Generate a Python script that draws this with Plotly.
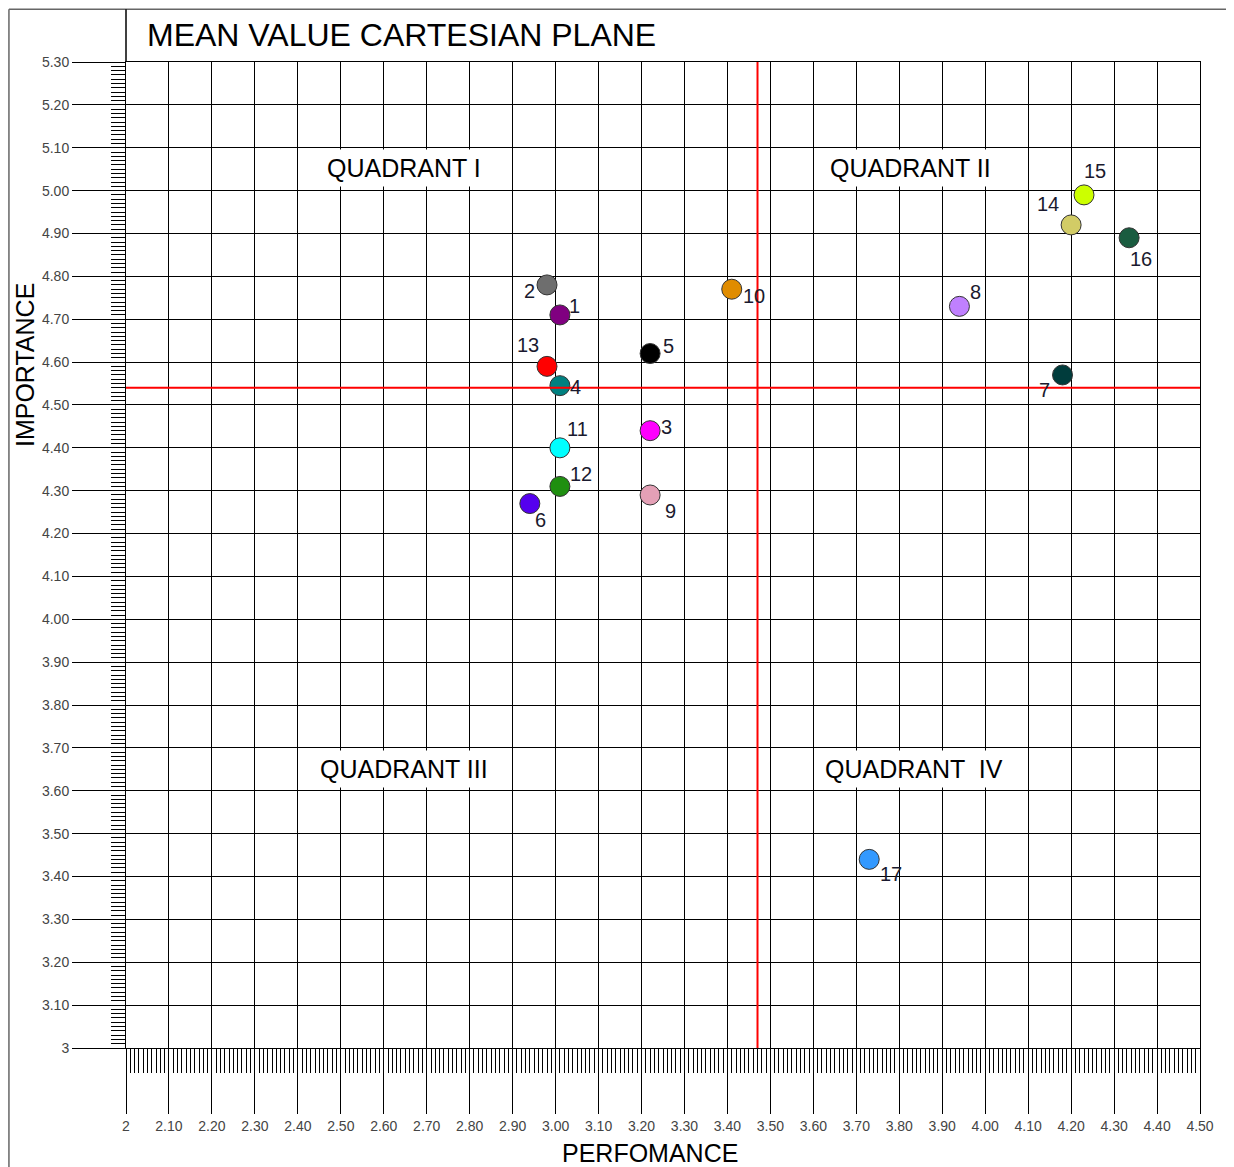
import plotly.graph_objects as go

# ---- data ----
labels = ["1", "2", "3", "4", "5", "6", "7", "8", "9", "10", "11", "12", "13", "14", "15", "16", "17"]
performance = [3.01, 2.98, 3.22, 3.01, 3.22, 2.94, 4.18, 3.94, 3.22, 3.41, 3.01, 3.01, 2.98, 4.20, 4.23, 4.335, 3.73]
importance = [4.71, 4.78, 4.44, 4.545, 4.62, 4.27, 4.57, 4.73, 4.29, 4.77, 4.40, 4.31, 4.59, 4.92, 4.99, 4.89, 3.44]
colors = ["#800080", "#6e6e6e", "#ff00ff", "#008080", "#000000", "#5500ee", "#003c3c", "#c080ff",
          "#e4a0b6", "#e08c00", "#00ffff", "#1f8f10", "#ff0000", "#d2cc66", "#ccff00", "#1a5c40", "#3399ff"]

# label offsets from marker centre, in pixels (style only)
label_dx = [15, -18, 16, 16, 18, 11, -18, 16, 20, 22, 18, 21, -19, -23, 11, 12, 22]
label_dy = [9, -6, 4, -1, 8, -16, -15, 14, -16, -7, 19, 12, 21, 21, 24, -21, -15]

mean_performance = 3.47
mean_importance = 4.54

x_tickvals = [2.0, 2.1, 2.2, 2.3, 2.4, 2.5, 2.6, 2.7, 2.8, 2.9, 3.0, 3.1, 3.2, 3.3, 3.4, 3.5, 3.6,
              3.7, 3.8, 3.9, 4.0, 4.1, 4.2, 4.3, 4.4, 4.5]
x_ticktext = ["2", "2.10", "2.20", "2.30", "2.40", "2.50", "2.60", "2.70", "2.80", "2.90", "3.00",
              "3.10", "3.20", "3.30", "3.40", "3.50", "3.60", "3.70", "3.80", "3.90", "4.00", "4.10",
              "4.20", "4.30", "4.40", "4.50"]
y_tickvals = [3.0, 3.1, 3.2, 3.3, 3.4, 3.5, 3.6, 3.7, 3.8, 3.9, 4.0, 4.1, 4.2, 4.3, 4.4, 4.5, 4.6,
              4.7, 4.8, 4.9, 5.0, 5.1, 5.2, 5.3]
y_ticktext = ["3", "3.10", "3.20", "3.30", "3.40", "3.50", "3.60", "3.70", "3.80", "3.90", "4.00",
              "4.10", "4.20", "4.30", "4.40", "4.50", "4.60", "4.70", "4.80", "4.90", "5.00", "5.10",
              "5.20", "5.30"]

quadrants = ["QUADRANT I", "QUADRANT II", "QUADRANT III", "QUADRANT  IV"]

FONT = "Liberation Sans, Arial, sans-serif"

fig = go.Figure()

# mean lines
fig.add_shape(type="line", xref="x", yref="y", x0=mean_performance, x1=mean_performance,
              y0=3.0, y1=5.3, line=dict(color="#ff0000", width=2), layer="above")
fig.add_shape(type="line", xref="x", yref="y", x0=2.0, x1=4.5,
              y0=mean_importance, y1=mean_importance, line=dict(color="#ff0000", width=2), layer="above")

fig.add_trace(go.Scatter(
    x=performance, y=importance, mode="markers",
    marker=dict(size=20, color=colors, line=dict(color="#333333", width=1)),
    cliponaxis=False, text=labels, hoverinfo="x+y+text", showlegend=False,
))

# frame shapes (paper coords)
frame_col = "#666666"
fig.add_shape(type="line", xref="paper", yref="paper", x0=-0.109, x1=-0.109, y0=-0.2, y1=1.0535,
              line=dict(color=frame_col, width=1.5))
fig.add_shape(type="line", xref="paper", yref="paper", x0=-0.109, x1=1.04, y0=1.0535, y1=1.0535,
              line=dict(color=frame_col, width=1.5))
fig.add_shape(type="line", xref="paper", yref="paper", x0=0, x1=0, y0=1.0, y1=1.0535,
              line=dict(color="#000000", width=1.5))

annotations = [
    dict(text="MEAN VALUE CARTESIAN PLANE", x=0.0177, y=1.0274, xref="paper", yref="paper",
         xanchor="left", yanchor="middle", showarrow=False,
         font=dict(family=FONT, size=32, color="#000000")),
    dict(text="IMPORTANCE", x=-0.094, y=0.6927, xref="paper", yref="paper", textangle=-90,
         xanchor="center", yanchor="middle", showarrow=False,
         font=dict(family=FONT, size=25, color="#000000")),
    dict(text="PERFOMANCE", x=0.488, y=-0.1065, xref="paper", yref="paper",
         xanchor="center", yanchor="middle", showarrow=False,
         font=dict(family=FONT, size=25, color="#000000")),
]
q_pos = [(0.2588, 0.8925), (0.730, 0.8925), (0.2588, 0.283), (0.7337, 0.283)]
for q, (qx, qy) in zip(quadrants, q_pos):
    annotations.append(dict(text=q, x=qx, y=qy, xref="paper", yref="paper",
                            xanchor="center", yanchor="middle", showarrow=False,
                            bgcolor="#ffffff", borderpad=4,
                            font=dict(family=FONT, size=25, color="#000000")))
for lab, px, py, dx, dy in zip(labels, performance, importance, label_dx, label_dy):
    annotations.append(dict(text=lab, x=px, y=py, xref="x", yref="y", xshift=dx, yshift=dy,
                            xanchor="center", yanchor="middle", showarrow=False,
                            font=dict(family=FONT, size=20, color="#1a1a2e")))

fig.update_layout(
    width=1226, height=1159,
    margin=dict(l=118, r=34, t=54, b=119),
    paper_bgcolor="#ffffff", plot_bgcolor="#ffffff",
    annotations=annotations,
    showlegend=False,
)

fig.update_xaxes(
    range=[2.0, 4.5], tickmode="array", tickvals=x_tickvals, ticktext=x_ticktext,
    showgrid=True, gridcolor="#000000", gridwidth=1,
    showline=True, linecolor="#000000", linewidth=1, mirror=True,
    ticks="outside", ticklen=65, tickcolor="#000000", tickwidth=1,
    tickfont=dict(family=FONT, size=14, color="#444444"),
    minor=dict(dtick=0.01, tick0=2.0, ticks="outside", ticklen=24, tickcolor="#000000", tickwidth=1,
               showgrid=False),
    zeroline=False,
)
fig.update_yaxes(
    range=[3.0, 5.3], tickmode="array", tickvals=y_tickvals, ticktext=y_ticktext,
    showgrid=True, gridcolor="#000000", gridwidth=1,
    showline=True, linecolor="#000000", linewidth=1, mirror=True,
    ticks="outside", ticklen=53, tickcolor="#000000", tickwidth=1,
    tickfont=dict(family=FONT, size=14, color="#444444"),
    minor=dict(dtick=0.01, tick0=3.0, ticks="outside", ticklen=14, tickcolor="#000000", tickwidth=1,
               showgrid=False),
    zeroline=False,
)

fig.write_html("out.html")
